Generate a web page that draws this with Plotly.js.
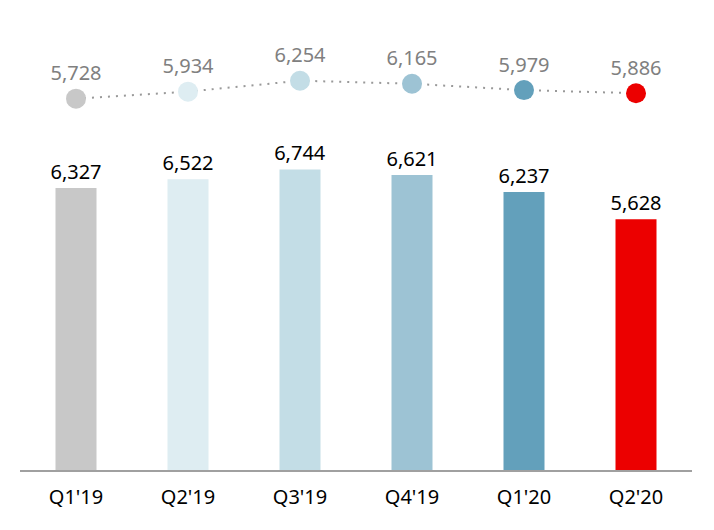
<!DOCTYPE html>
<html>
<head>
<meta charset="utf-8">
<script src="https://cdn.plot.ly/plotly-3.0.1.min.js"></script>
<style>
  html, body { margin: 0; padding: 0; background: #fff; }
  #chart { width: 714px; height: 530px; }
</style>
</head>
<body>
<div id="chart"></div>
<script>
// Data ------------------------------------------------------------------------
const quarters = ["Q1'19", "Q2'19", "Q3'19", "Q4'19", "Q1'20", "Q2'20"]
const barValues = [6327, 6522, 6744, 6621, 6237, 5628]
const lineValues = [5728, 5934, 6254, 6165, 5979, 5886]
const colours = ['#c8c8c8', '#deedf2', '#c3dde6', '#9dc3d4', '#63a0bb', '#ec0000']

const fmt = v => v.toLocaleString('en-US')
const font = '"Noto Sans", "Open Sans", sans-serif'

// Traces ----------------------------------------------------------------------
const bars = {
  x: quarters,
  y: barValues,
  type: 'bar',
  marker: { color: colours },
  text: barValues.map(fmt),
  textposition: 'outside',
  constraintext: 'none',
  textfont: { family: font, size: 20, color: '#000' },
  cliponaxis: false,
  hoverinfo: 'none'
}

const line = {
  x: quarters,
  y: lineValues,
  yaxis: 'y2',
  type: 'scatter',
  mode: 'lines+markers+text',
  line: { color: '#999', width: 2, dash: '2px,6px' },
  marker: { color: colours, size: 20 },
  text: lineValues.map(fmt),
  textposition: 'top center',
  textfont: { family: font, size: 20, color: '#808080' },
  cliponaxis: false,
  hoverinfo: 'none'
}

const layout = {
  width: 714,
  height: 530,
  margin: { l: 20, r: 22, t: 0, b: 60 },
  showlegend: false,
  paper_bgcolor: '#fff',
  plot_bgcolor: '#fff',
  bargap: 0.634,
  font: { family: font, size: 20, color: '#000' },
  xaxis: {
    showgrid: false,
    showline: true,
    linecolor: '#a0a0a0',
    linewidth: 2,
    ticks: '',
    tickfont: { family: font, size: 20, color: '#000' },
    ticklabelstandoff: 8
  },
  yaxis: {
    range: [0, 10545],
    visible: false,
    showgrid: false,
    zeroline: false
  },
  yaxis2: {
    range: [-5162, 8621],
    overlaying: 'y',
    visible: false,
    showgrid: false,
    zeroline: false
  }
}

Plotly.newPlot('chart', [bars, line], layout, { displayModeBar: false, staticPlot: true })
</script>
</body>
</html>
